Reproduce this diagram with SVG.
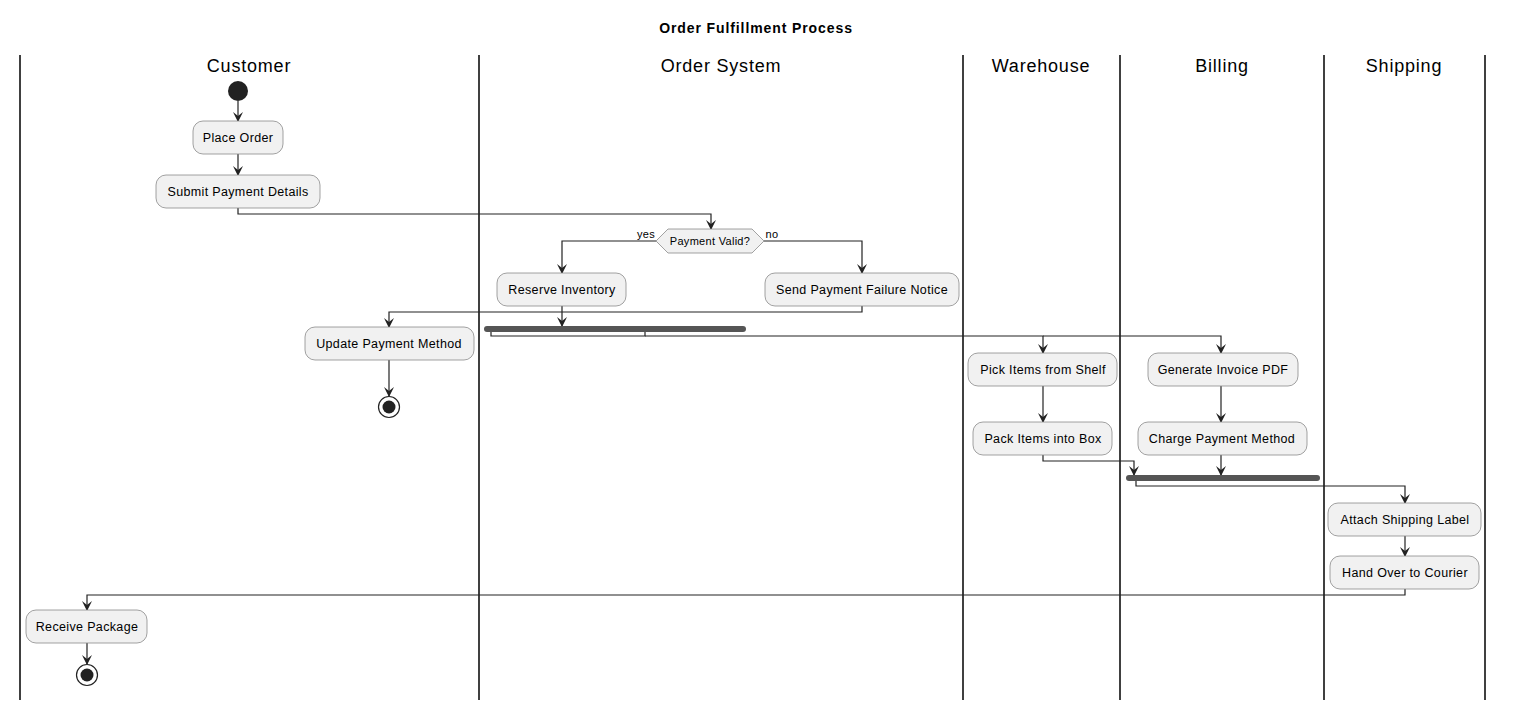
<svg xmlns="http://www.w3.org/2000/svg" width="1513" height="722" viewBox="0 0 1513 722">
<defs>
<style>
text{font-family:"Liberation Sans",Arial,sans-serif;fill:#000}
.a rect{fill:#f1f1f1;stroke:#8a8a8a;stroke-width:0.8}
.a text{font-size:12.5px;text-anchor:middle;letter-spacing:0.35px}
.lane{stroke:#000;stroke-width:1.5}
.hd{font-size:18px;text-anchor:middle;letter-spacing:0.8px}
.c{fill:none;stroke:#222;stroke-width:1.2}
.bar{fill:#555}
</style>
<marker id="ar" viewBox="0 0 10 10" refX="9" refY="5" markerWidth="10" markerHeight="10" markerUnits="userSpaceOnUse" orient="auto"><path d="M0,0 L10,5 L0,10 L4,5 z" fill="#222"/></marker>
</defs>
<rect width="1513" height="722" fill="#fff"/>
<text x="756" y="33" font-size="14" font-weight="bold" text-anchor="middle" letter-spacing="0.9">Order Fulfillment Process</text>
<g id="lanes">
<line class="lane" x1="20" y1="55" x2="20" y2="700"/>
<line class="lane" x1="479" y1="55" x2="479" y2="700"/>
<line class="lane" x1="963" y1="55" x2="963" y2="700"/>
<line class="lane" x1="1120" y1="55" x2="1120" y2="700"/>
<line class="lane" x1="1324" y1="55" x2="1324" y2="700"/>
<line class="lane" x1="1485" y1="55" x2="1485" y2="700"/>
<text class="hd" x="249" y="72">Customer</text>
<text class="hd" x="721" y="72">Order System</text>
<text class="hd" x="1041" y="72">Warehouse</text>
<text class="hd" x="1222" y="72">Billing</text>
<text class="hd" x="1404" y="72">Shipping</text>
</g>
<g id="connectors">
<path class="c" marker-end="url(#ar)" d="M238,101 V121"/>
<path class="c" marker-end="url(#ar)" d="M238,154 V175"/>
<path class="c" marker-end="url(#ar)" d="M238,208 V214 H711 V229"/>
<path class="c" marker-end="url(#ar)" d="M656,241 H562 V273"/>
<path class="c" marker-end="url(#ar)" d="M764,241 H862 V273"/>
<path class="c" marker-end="url(#ar)" d="M562,306 V326"/>
<path class="c" marker-end="url(#ar)" d="M862,306 V312 H389 V327"/>
<path class="c" marker-end="url(#ar)" d="M389,360 V396"/>
<path class="c" d="M491,332 V336 H645 V332"/>
<path class="c" marker-end="url(#ar)" d="M645,336 H1043 V353"/>
<path class="c" marker-end="url(#ar)" d="M1043,336 H1221 V353"/>
<path class="c" marker-end="url(#ar)" d="M1043,386 V422"/>
<path class="c" marker-end="url(#ar)" d="M1221,386 V422"/>
<path class="c" marker-end="url(#ar)" d="M1043,455 V461 H1134 V475"/>
<path class="c" marker-end="url(#ar)" d="M1221,455 V475"/>
<path class="c" marker-end="url(#ar)" d="M1136,481 V486 H1405 V503"/>
<path class="c" marker-end="url(#ar)" d="M1405,536 V556"/>
<path class="c" marker-end="url(#ar)" d="M1405,589 V595 H87 V610"/>
<path class="c" marker-end="url(#ar)" d="M87,643 V664"/>
<text x="646" y="238" font-size="11" text-anchor="middle" letter-spacing="0.3">yes</text>
<text x="772" y="238" font-size="11" text-anchor="middle" letter-spacing="0.3">no</text>
</g>
<g id="start"><circle cx="238" cy="91" r="10" fill="#222"/></g>
<g id="n1" class="a"><rect x="193" y="121" width="90" height="33" rx="10"/><text x="238" y="142">Place Order</text></g>
<g id="n2" class="a"><rect x="156" y="175" width="164" height="33" rx="10"/><text x="238" y="196">Submit Payment Details</text></g>
<g id="dec"><polygon points="656,241 668,229 752,229 764,241 752,253 668,253" fill="#f1f1f1" stroke="#8a8a8a" stroke-width="0.8"/><text x="710" y="245" font-size="11" text-anchor="middle" letter-spacing="0.3">Payment Valid?</text></g>
<g id="n3" class="a"><rect x="497" y="273" width="129" height="33" rx="10"/><text x="562" y="294">Reserve Inventory</text></g>
<g id="n4" class="a"><rect x="765" y="273" width="194" height="33" rx="10"/><text x="862" y="294">Send Payment Failure Notice</text></g>
<g id="n5" class="a"><rect x="305" y="327" width="169" height="33" rx="10"/><text x="389" y="348">Update Payment Method</text></g>
<g id="end1"><circle cx="389" cy="407" r="10.5" fill="#fff" stroke="#222" stroke-width="1.2"/><circle cx="389" cy="407" r="6.5" fill="#222"/></g>
<g id="fork"><rect class="bar" x="484" y="326" width="262" height="6" rx="3"/></g>
<g id="n6" class="a"><rect x="968" y="353" width="149" height="33" rx="10"/><text x="1043" y="374">Pick Items from Shelf</text></g>
<g id="n7" class="a"><rect x="1148" y="353" width="150" height="33" rx="10"/><text x="1223" y="374">Generate Invoice PDF</text></g>
<g id="n8" class="a"><rect x="973" y="422" width="139" height="33" rx="10"/><text x="1043" y="443">Pack Items into Box</text></g>
<g id="n9" class="a"><rect x="1138" y="422" width="169" height="33" rx="10"/><text x="1222" y="443">Charge Payment Method</text></g>
<g id="join"><rect class="bar" x="1126" y="475" width="194" height="6" rx="3"/></g>
<g id="n10" class="a"><rect x="1328" y="503" width="153" height="33" rx="10"/><text x="1405" y="524">Attach Shipping Label</text></g>
<g id="n11" class="a"><rect x="1330" y="556" width="149" height="33" rx="10"/><text x="1405" y="577">Hand Over to Courier</text></g>
<g id="n12" class="a"><rect x="26" y="610" width="121" height="33" rx="10"/><text x="87" y="631">Receive Package</text></g>
<g id="end2"><circle cx="87" cy="675" r="10.5" fill="#fff" stroke="#222" stroke-width="1.2"/><circle cx="87" cy="675" r="6.5" fill="#222"/></g>
</svg>
